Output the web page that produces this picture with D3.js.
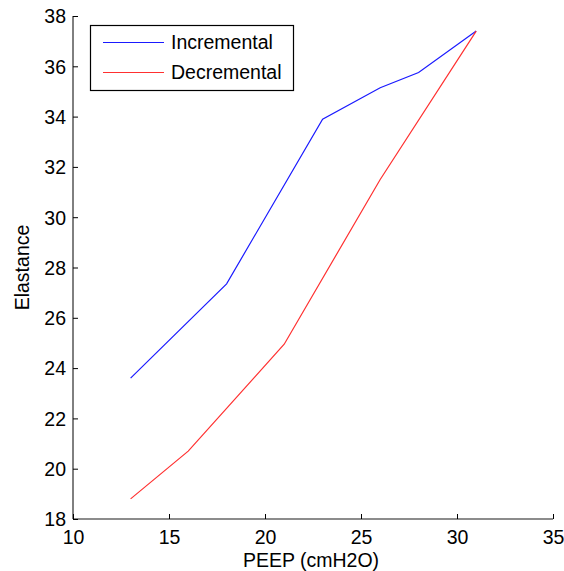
<!DOCTYPE html>
<html>
<head>
<meta charset="utf-8">
<script src="https://cdn.jsdelivr.net/npm/d3@7"></script>
<style>
  html, body { margin: 0; padding: 0; background: #fff; }
  svg { display: block; }
  text { font-family: "Liberation Sans", Arial, Helvetica, sans-serif; fill: #000; }
</style>
</head>
<body>
<svg id="chart" width="564" height="571"></svg>
<script>
// ---- data ----
const incPeep = [13, 18, 23, 26, 28, 31];
const incElastance = [23.6, 27.35, 33.9, 35.15, 35.75, 37.4];
const decPeep = [13, 16, 21, 26, 31];
const decElastance = [18.8, 20.7, 24.95, 31.5, 37.4];
const xTicks = [10, 15, 20, 25, 30, 35];
const yTicks = [18, 20, 22, 24, 26, 28, 30, 32, 34, 36, 38];
const seriesNames = ["Incremental", "Decremental"];
const seriesColors = ["#1a1aff", "#ff3030"];
const xLabel = "PEEP (cmH2O)";
const yLabel = "Elastance";

// ---- layout ----
const svg = d3.select("#chart");
const pLeft = 73, pRight = 553, pTop = 16, pBottom = 519;
const x = d3.scaleLinear().domain([10, 35]).range([pLeft, pRight]);
const y = d3.scaleLinear().domain([18, 38]).range([pBottom, pTop]);
const fontSize = 19.5;

// bottom axis
const xAxis = svg.append("g").attr("transform", `translate(0,${pBottom})`)
  .call(d3.axisTop(x).tickValues(xTicks).tickSize(5).tickFormat(""));
xAxis.select(".domain").attr("stroke", "#666").attr("stroke-width", 1.6)
  .attr("d", `M${pLeft},0H${pRight}`);
xAxis.selectAll(".tick line").attr("stroke", "#000").attr("stroke-width", 1);
xAxis.selectAll(".tick").append("text")
  .attr("y", 25).attr("text-anchor", "middle")
  .style("font-size", fontSize + "px")
  .text(d => d);

// left axis
const yAxis = svg.append("g").attr("transform", `translate(${pLeft},0)`)
  .call(d3.axisRight(y).tickValues(yTicks).tickSize(5).tickFormat(""));
yAxis.select(".domain").attr("stroke", "#000").attr("stroke-width", 1)
  .attr("d", `M0,${pTop}V${pBottom}`);
yAxis.selectAll(".tick line").attr("stroke", "#000");
yAxis.selectAll(".tick").append("text")
  .attr("x", -7).attr("dy", "0.35em").attr("text-anchor", "end")
  .style("font-size", fontSize + "px")
  .text(d => d);

// axis labels
svg.append("text").attr("x", (pLeft + pRight) / 2 - 2).attr("y", 567)
  .attr("text-anchor", "middle").style("font-size", fontSize + "px").text(xLabel);
svg.append("text")
  .attr("transform", `translate(29,${(pTop + pBottom) / 2}) rotate(-90)`)
  .attr("text-anchor", "middle").style("font-size", fontSize + "px").text(yLabel);

// lines
const line = d3.line().x(d => x(d[0])).y(d => y(d[1]));
const incData = incPeep.map((p, i) => [p, incElastance[i]]);
const decData = decPeep.map((p, i) => [p, decElastance[i]]);
svg.append("path").datum(incData).attr("d", line)
  .attr("fill", "none").attr("stroke", seriesColors[0]).attr("stroke-width", 1.2);
svg.append("path").datum(decData).attr("d", line)
  .attr("fill", "none").attr("stroke", seriesColors[1]).attr("stroke-width", 1.2);

// legend
const lg = svg.append("g");
lg.append("rect").attr("x", 90.5).attr("y", 25.5).attr("width", 203).attr("height", 65)
  .attr("fill", "#fff").attr("stroke", "#000").attr("stroke-width", 1.2);
seriesNames.forEach((name, i) => {
  const ly = 42.5 + i * 30;
  lg.append("line").attr("x1", 103).attr("x2", 164).attr("y1", ly).attr("y2", ly)
    .attr("stroke", seriesColors[i]).attr("stroke-width", 1.2);
  lg.append("text").attr("x", 171).attr("y", ly).attr("dy", "0.35em")
    .style("font-size", fontSize + "px").text(name);
});
</script>
</body>
</html>
